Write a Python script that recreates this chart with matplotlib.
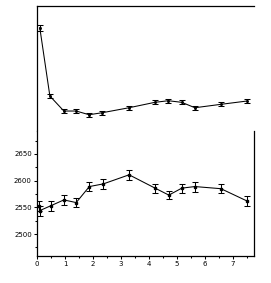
import numpy as np
import matplotlib
matplotlib.use("Agg")
import matplotlib.pyplot as plt
from matplotlib.ticker import MultipleLocator

# Data
x_top = [0.1, 0.46, 0.96, 1.40, 1.86, 2.33, 3.29, 4.21, 4.69, 5.17, 5.64, 6.57, 7.5]
y_top = [103.3, 35, 20, 20, 16.3, 18.3, 23.3, 28.7, 30.3, 28.7, 23.3, 26.7, 30]
e_top = [2.8, 2, 2, 2, 2, 2, 2, 2, 2, 2, 2, 2, 2]

x_bot = [0.07, 0.1, 0.49, 0.96, 1.40, 1.87, 2.37, 3.29, 4.22, 4.71, 5.17, 5.64, 6.57, 7.5]
y_bot = [2553, 2544, 2553, 2564, 2559, 2589, 2594, 2611, 2586, 2573, 2586, 2589, 2585, 2562]
e_bot = [9, 9.4, 9.4, 9, 9, 9, 9, 9, 8.5, 8, 8.5, 9.4, 8.7, 8.5]

plt.rcParams["font.family"] = "DejaVu Sans"
fig = plt.figure(figsize=(2.71, 2.83), dpi=100)

ax_top = fig.add_axes([0.1365, 0.537, 0.8007, 0.4417])
ax_bot = fig.add_axes([0.1365, 0.0954, 0.8007, 0.4417])

style = dict(color="black", lw=0.75, elinewidth=0.75, capsize=2.2, capthick=0.75,
             mfc="black", mec="black")

ax_top.errorbar(x_top, y_top, yerr=e_top, marker="s", ms=1.0, **style)
ax_top.set_xlim(0, 7.75)
ax_top.set_ylim(0, 125)
ax_top.spines["right"].set_visible(False)
ax_top.spines["bottom"].set_visible(False)
ax_top.set_xticks([])
ax_top.set_yticks([])

ax_bot.errorbar(x_bot, y_bot, yerr=e_bot, marker="s", ms=1.6, **style)
ax_bot.set_xlim(0, 7.75)
ax_bot.set_ylim(2459, 2693)
ax_bot.spines["top"].set_visible(False)
ax_bot.xaxis.set_major_locator(MultipleLocator(1))
ax_bot.xaxis.set_minor_locator(MultipleLocator(0.5))
ax_bot.set_yticks([2500, 2550, 2600, 2650])
ax_bot.yaxis.set_minor_locator(MultipleLocator(25))
ax_bot.tick_params(which="major", length=2.2, width=0.75, labelsize=5, pad=1.5)
ax_bot.tick_params(which="minor", length=1.5, width=0.75)

for ax in (ax_top, ax_bot):
    for s in ax.spines.values():
        s.set_linewidth(0.9)

plt.savefig("out.png", dpi=100)
